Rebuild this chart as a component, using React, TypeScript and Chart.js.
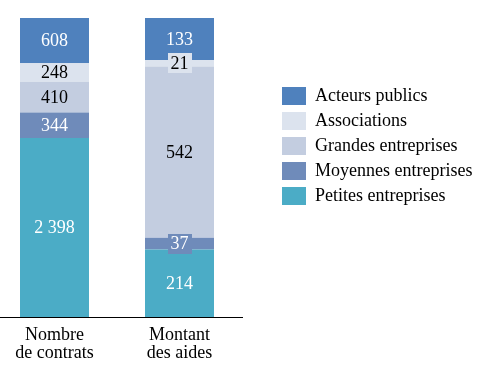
import React, { useEffect, useRef } from 'react';
import { Chart, registerables } from 'chart.js';

Chart.register(...registerables);

const FONT = "'Liberation Serif', 'Times New Roman', serif";
const FSIZE = 18;

const categories = [['Nombre', 'de contrats'], ['Montant', 'des aides']];
const seriesNames = ['Petites entreprises', 'Moyennes entreprises', 'Grandes entreprises', 'Associations', 'Acteurs publics'];
const petites = [2398, 214];
const moyennes = [344, 37];
const grandes = [410, 542];
const associations = [248, 21];
const acteurs = [608, 133];
const seriesValues = [petites, moyennes, grandes, associations, acteurs];
const seriesColors = ['#4BACC6', '#6F8BBA', '#C3CDE0', '#DCE3EE', '#4F81BD'];
const labelColors = ['#ffffff', '#ffffff', '#000000', '#000000', '#ffffff'];

const totals = categories.map((_, j) => seriesValues.reduce((s, arr) => s + arr[j], 0));

const fmt = (v: number) => String(v).replace(/\B(?=(\d{3})+(?!\d))/g, ' ');

const valueLabels = {
  id: 'valueLabels',
  afterDatasetsDraw(chart: any) {
    const ctx = chart.ctx;
    ctx.save();
    ctx.font = `${FSIZE}px ${FONT}`;
    ctx.textAlign = 'center';
    ctx.textBaseline = 'middle';
    chart.data.datasets.forEach((ds: any, i: number) => {
      const meta = chart.getDatasetMeta(i);
      meta.data.forEach((el: any, j: number) => {
        const text = fmt(seriesValues[i][j]);
        const { x, y, base } = el.getProps(['x', 'y', 'base'], true);
        const cy = (y + base) / 2;
        const h = Math.abs(base - y);
        if (h < 15) {
          const w = ctx.measureText(text).width + 6;
          ctx.fillStyle = seriesColors[i];
          ctx.fillRect(Math.round(x - w / 2), Math.round(cy - 10), Math.round(w), 20);
        }
        ctx.fillStyle = labelColors[i];
        ctx.fillText(text, x, cy + 1);
      });
    });
    ctx.restore();
  },
};

// let the right-hand legend be as wide as its text needs
const legendWidthFix = {
  id: 'legendWidthFix',
  beforeLayout(chart: any) {
    const lg = chart.legend;
    if (lg && !lg.__patched) {
      const orig = lg.fit;
      lg.fit = function () {
        this.maxWidth = 400;
        return orig.call(this);
      };
      lg.__patched = true;
    }
  },
};

export default function App() {
  const ref = useRef<HTMLCanvasElement>(null);

  useEffect(() => {
    const canvas = ref.current;
    if (!canvas) return;

    const m = document.createElement('canvas').getContext('2d')!;
    m.font = `${FSIZE}px ${FONT}`;
    const maxW = Math.max(...seriesNames.map((n) => m.measureText(n).width));
    const legendW = 7 + 24 + FSIZE / 2 + maxW + 10;
    const padRight = Math.max(0, 210 - legendW);

    const chart = new Chart(canvas, {
      type: 'bar',
      data: {
        labels: categories,
        datasets: seriesNames.map((name, i) => ({
          label: name,
          data: seriesValues[i].map((v, j) => (v / totals[j]) * 100),
          backgroundColor: seriesColors[i],
          borderColor: seriesColors[i],
          borderWidth: 0,
          categoryPercentage: 0.552,
          barPercentage: 1,
          stack: 's',
        })),
      },
      options: {
        animation: false,
        responsive: false,
        maintainAspectRatio: false,
        devicePixelRatio: 1,
        layout: { padding: { top: 18, right: padRight, bottom: 0, left: 0 } },
        scales: {
          x: {
            stacked: true,
            grid: { display: false, drawTicks: false },
            border: { display: true, color: '#000000', width: 1 },
            ticks: {
              color: '#000000',
              padding: 9,
              maxRotation: 0,
              autoSkip: false,
              font: { family: FONT, size: FSIZE, lineHeight: '18px' },
            },
            afterFit: (s: any) => {
              s.height = 55;
            },
          },
          y: {
            position: 'right',
            stacked: true,
            min: 0,
            max: 100,
            grid: { display: false, drawTicks: false },
            border: { display: false },
            ticks: { display: false },
            afterFit: (s: any) => {
              s.width = 33;
            },
          },
        },
        plugins: {
          tooltip: { enabled: false },
          legend: {
            position: 'right',
            align: 'start',
            reverse: true,
            title: { display: true, text: '', padding: { top: 50, bottom: 0 }, font: { size: 10 } },
            labels: {
              boxWidth: 24,
              boxHeight: 18,
              padding: 7,
              color: '#000000',
              font: { family: FONT, size: FSIZE },
            },
          },
        },
      },
      plugins: [legendWidthFix, valueLabels],
    } as any);

    return () => chart.destroy();
  }, []);

  return (
    <div style={{ position: 'absolute', left: -8, top: 0, width: 493, height: 372 }}>
      <canvas ref={ref} width={493} height={372} style={{ display: 'block', width: 493, height: 372 }} />
    </div>
  );
}
